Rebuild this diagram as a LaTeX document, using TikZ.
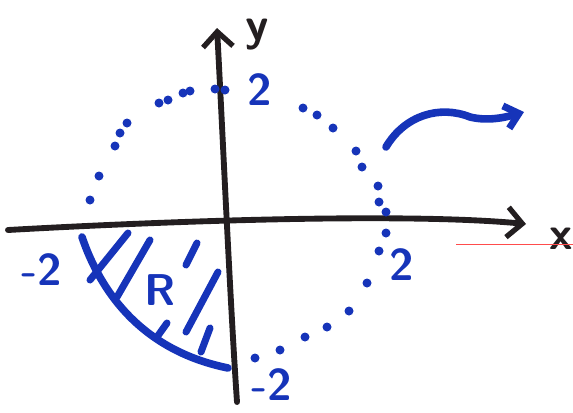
\documentclass[tikz,border=0pt]{standalone}
\usetikzlibrary{arrows.meta}
\definecolor{inkblue}{RGB}{22,52,185}
\definecolor{inkblack}{RGB}{35,30,32}
\tikzset{
  axis/.style   = {draw=inkblack, line width=5pt, line cap=round,
                   -{Straight Barb[length=4.5mm, width=9mm, line width=4.5pt]}},
  marker/.style = {draw=inkblue, line width=6.5pt, line cap=round},
  hatch/.style  = {draw=inkblue, line width=6pt, line cap=round},
  dot/.style    = {fill=inkblue},
  blbl/.style   = {text=inkblue, font=\fontsize{38}{38}\selectfont\bfseries\sffamily, inner sep=0pt},
  klbl/.style   = {text=inkblack, font=\fontsize{40}{40}\selectfont\bfseries\sffamily, inner sep=0pt},
}

\begin{document}
\begin{tikzpicture}[x=0.03cm, y=-0.03cm]
\useasboundingbox (0,0) rectangle (573,412);

%% ── Axes ─────────────────────────────────────────────────────────────────────
\coordinate (XL) at (8,230);
\coordinate (XR) at (526,224);
\coordinate (YB) at (237,402);
\coordinate (YT) at (217,28);
\draw[axis] (XL) .. controls (150,222) and (400,212) .. (XR);
\draw[axis] (YB) .. controls (230,300) and (222,120) .. (YT);

%% ── Axis names ──────────────────────────────────────────────────────────────
\node[klbl] (xname) at (561,239) {x};
\node[klbl] (yname) at (257,35)  {y};

%% ── Tick values ─────────────────────────────────────────────────────────────
\node[blbl] (top)    at (260,90)  {2};
\node[blbl] (right)  at (402,265) {2};
\node[blbl] (left)   at (42,270)  {-2};
\node[blbl] (bottom) at (272,385) {-2};

%% ── Dotted circle ───────────────────────────────────────────────────────────
\foreach \p in {(90,200), (99,176), (115,146), (120,133), (127,123),
                (159,103), (168,100), (183,93), (190,91), (215,89), (225,90),
                (303,108), (317,115), (333,128), (356,151), (362,167),
                (378,186), (379,202), (386,212), (386,233), (379,251),
                (367,283), (349,311), (327,327), (305,337), (280,350), (255,358)}
  \fill[dot] \p circle (4.5);

%% ── Region R ────────────────────────────────────────────────────────────────
\draw[marker] (82,237) .. controls (100,290) and (140,350) .. (228,368);
\draw[hatch] (128,233) -- (90,280);
\draw[hatch] (150,240) -- (117,297);
\draw[hatch] (197,243) -- (186,265);
\draw[hatch] (218,272) -- (186,332);
\draw[hatch] (167,323) -- (157,337);
\draw[hatch] (210,328) -- (201,352);
\node[blbl] (R) at (160,290) {R};

%% ── Wavy arrow ──────────────────────────────────────────────────────────────
\coordinate (WS) at (386,147);
\coordinate (WE) at (524,112);
\draw[marker, -{Straight Barb[length=4mm, width=7mm, line width=6pt]}]
  (WS) .. controls (405,115) and (440,105) .. (470,117)
       .. controls (490,122) and (510,116) .. (WE);

%% ── Stray red line ──────────────────────────────────────────────────────────
\draw[red!70, line width=0.5pt] (456,244) -- (573,244);

\end{tikzpicture}
\end{document}
